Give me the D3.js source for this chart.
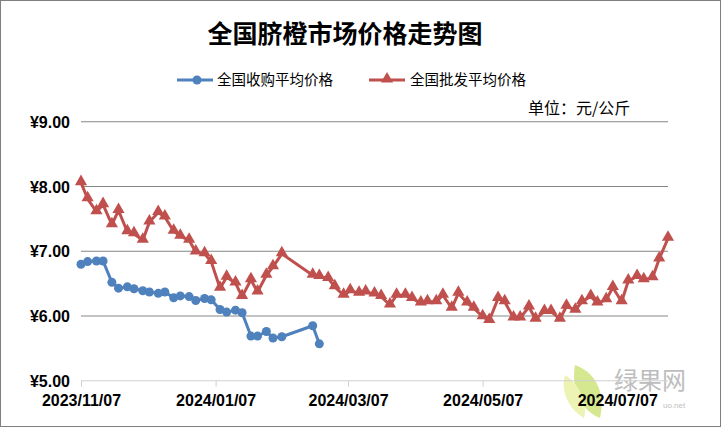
<!DOCTYPE html>
<html><head><meta charset="utf-8">
<script src="https://cdn.jsdelivr.net/npm/d3@7"></script>
<style>body{margin:0;background:#fff;}svg{display:block;}</style>
</head><body>
<svg id="c" width="722" height="428"></svg>
<script>
const title = "全国脐橙市场价格走势图";
const seriesNames = ["全国收购平均价格", "全国批发平均价格"];
const unitLabel = "单位：元/公斤";
const wholesaleDates = ["2023-11-07","2023-11-10","2023-11-14","2023-11-17","2023-11-21","2023-11-24","2023-11-28","2023-12-01","2023-12-05","2023-12-08","2023-12-12","2023-12-15","2023-12-19","2023-12-22","2023-12-26","2023-12-29","2024-01-02","2024-01-05","2024-01-09","2024-01-12","2024-01-16","2024-01-19","2024-01-23","2024-01-26","2024-01-30","2024-02-02","2024-02-06","2024-02-20","2024-02-23","2024-02-27","2024-03-01","2024-03-05","2024-03-08","2024-03-12","2024-03-15","2024-03-19","2024-03-22","2024-03-26","2024-03-29","2024-04-02","2024-04-05","2024-04-09","2024-04-12","2024-04-16","2024-04-19","2024-04-23","2024-04-26","2024-04-30","2024-05-03","2024-05-07","2024-05-10","2024-05-14","2024-05-17","2024-05-21","2024-05-24","2024-05-28","2024-05-31","2024-06-04","2024-06-07","2024-06-11","2024-06-14","2024-06-18","2024-06-21","2024-06-25","2024-06-28","2024-07-02","2024-07-05","2024-07-09","2024-07-12","2024-07-16","2024-07-19","2024-07-23","2024-07-26","2024-07-30"];
const wholesalePrices = [8.06,7.81,7.61,7.72,7.41,7.63,7.30,7.27,7.17,7.45,7.60,7.53,7.31,7.23,7.17,6.99,6.96,6.84,6.43,6.60,6.51,6.30,6.56,6.37,6.63,6.76,6.96,
6.63,6.61,6.58,6.45,6.32,6.39,6.35,6.37,6.34,6.30,6.17,6.32,6.32,6.27,6.20,6.22,6.22,6.32,6.12,6.35,6.20,6.12,5.99,5.93,6.27,6.22,5.97,5.97,6.14,5.95,6.07,6.07,5.95,6.15,6.09,6.22,6.30,6.20,6.25,6.44,6.22,6.54,6.61,6.56,6.59,6.88,7.20];
const purchaseDates = ["2023-11-07","2023-11-10","2023-11-14","2023-11-17","2023-11-21","2023-11-24","2023-11-28","2023-12-01","2023-12-05","2023-12-08","2023-12-12","2023-12-15","2023-12-19","2023-12-22","2023-12-26","2023-12-29","2024-01-02","2024-01-05","2024-01-09","2024-01-12","2024-01-16","2024-01-19","2024-01-23","2024-01-26","2024-01-30","2024-02-02","2024-02-06","2024-02-20","2024-02-23"];
const purchasePrices = [6.80,6.84,6.85,6.85,6.52,6.43,6.45,6.42,6.39,6.37,6.35,6.37,6.28,6.31,6.30,6.24,6.27,6.25,6.10,6.06,6.09,6.05,5.69,5.69,5.76,5.66,5.68,5.85,5.57];
const yTicks = [5, 6, 7, 8, 9];
const xTickLabels = ["2023/11/07","2024/01/07","2024/03/07","2024/05/07","2024/07/07"];
const xDomain = ["2023-11-07","2024-07-30"];

const parse = d3.timeParse("%Y-%m-%d");
const parseTick = d3.timeParse("%Y/%m/%d");
const svg = d3.select("#c");
const W = 722, H = 428;
const blue = "#4F81BD", red = "#C0504D";
const cjk = "'Noto Sans CJK SC','Noto Sans',sans-serif";
const latin = "'Liberation Sans',Arial,sans-serif";

svg.append("rect").attr("x",0.5).attr("y",0.5).attr("width",W-2).attr("height",H-2)
  .attr("fill","#fff").attr("stroke","#7f7f7f");

const x = d3.scaleTime().domain(xDomain.map(parse)).range([81, 668]);
const y = d3.scaleLinear().domain([5, 9]).range([380.75, 121.75]);

// gridlines
svg.append("g").selectAll("line").data(yTicks.filter(t => t > 5)).join("line")
  .attr("x1", 81).attr("x2", 668).attr("y1", d => y(d)).attr("y2", d => y(d))
  .attr("stroke", "#868686").attr("stroke-width", 1);

// y labels
svg.append("g").selectAll("text").data(yTicks).join("text")
  .attr("x", 70).attr("y", d => y(d) + 6).attr("text-anchor", "end")
  .attr("font-family", latin).attr("font-weight", "bold").attr("font-size", 16)
  .text(d => "¥" + d3.format(".2f")(d));

// watermark (behind labels)
const wm = svg.append("g").attr("opacity", 0.75);
wm.append("path").attr("d", "M575,365 C595,372 606,392 600,418 C585,412 570,395 575,365 Z").attr("fill", "#c8e06a");
wm.append("path").attr("d", "M565,375 C580,385 588,402 584,418 C570,410 560,392 565,375 Z").attr("fill", "#e6ef9a");
wm.append("text").attr("x", 614).attr("y", 389).attr("font-family", cjk).attr("font-size", 24).attr("fill", "#a8a8a8").text("绿果网");
wm.append("text").attr("x", 663).attr("y", 408).attr("font-family", latin).attr("font-size", 8).attr("fill", "#aaa").text("uo.net");

// x axis
const xAxis = d3.axisBottom(x).tickValues(xTickLabels.map(parseTick))
  .tickFormat(d3.timeFormat("%Y/%m/%d")).tickSize(6).tickPadding(8);
const gx = svg.append("g").attr("transform", `translate(0,${y(5)})`).call(xAxis);
gx.select(".domain").attr("stroke", "#d0d0d0").attr("d", `M81,0H668`);
gx.selectAll(".tick line").attr("stroke", "#d0d0d0");
gx.selectAll(".tick text").attr("font-family", latin).attr("font-weight", "bold")
  .attr("font-size", 16).attr("fill", "#000");

const wData = wholesaleDates.map((d, i) => ({ d: parse(d), v: wholesalePrices[i] }));
const pData = purchaseDates.map((d, i) => ({ d: parse(d), v: purchasePrices[i] }));
const line = d3.line().x(p => x(p.d)).y(p => y(p.v));

svg.append("path").datum(wData).attr("d", line).attr("fill", "none")
  .attr("stroke", red).attr("stroke-width", 3).attr("stroke-linejoin", "round");
const tri = d3.symbol().type(d3.symbolTriangle).size(64);
svg.append("g").selectAll("path").data(wData).join("path")
  .attr("d", tri).attr("transform", p => `translate(${x(p.d)},${y(p.v) - 1})`).attr("fill", red);

svg.append("path").datum(pData).attr("d", line).attr("fill", "none")
  .attr("stroke", blue).attr("stroke-width", 3).attr("stroke-linejoin", "round");
svg.append("g").selectAll("circle").data(pData).join("circle")
  .attr("cx", p => x(p.d)).attr("cy", p => y(p.v)).attr("r", 4.5).attr("fill", blue);

// title
svg.append("text").attr("x", 345).attr("y", 43).attr("text-anchor", "middle")
  .attr("font-family", cjk).attr("font-weight", "bold").attr("font-size", 25).text(title);

// legend
const lg = svg.append("g");
lg.append("line").attr("x1", 177).attr("x2", 213).attr("y1", 80).attr("y2", 80).attr("stroke", blue).attr("stroke-width", 3);
lg.append("circle").attr("cx", 197).attr("cy", 80).attr("r", 4.5).attr("fill", blue);
lg.append("text").attr("x", 217).attr("y", 85).attr("font-family", cjk).attr("font-size", 14.5).text(seriesNames[0]);
lg.append("line").attr("x1", 369).attr("x2", 405).attr("y1", 80).attr("y2", 80).attr("stroke", red).attr("stroke-width", 3);
lg.append("path").attr("d", tri).attr("transform", "translate(387,79)").attr("fill", red);
lg.append("text").attr("x", 410).attr("y", 85).attr("font-family", cjk).attr("font-size", 14.5).text(seriesNames[1]);
svg.append("text").attr("x", 528).attr("y", 114).attr("font-family", cjk).attr("font-size", 16).text(unitLabel);
</script>
</body></html>
